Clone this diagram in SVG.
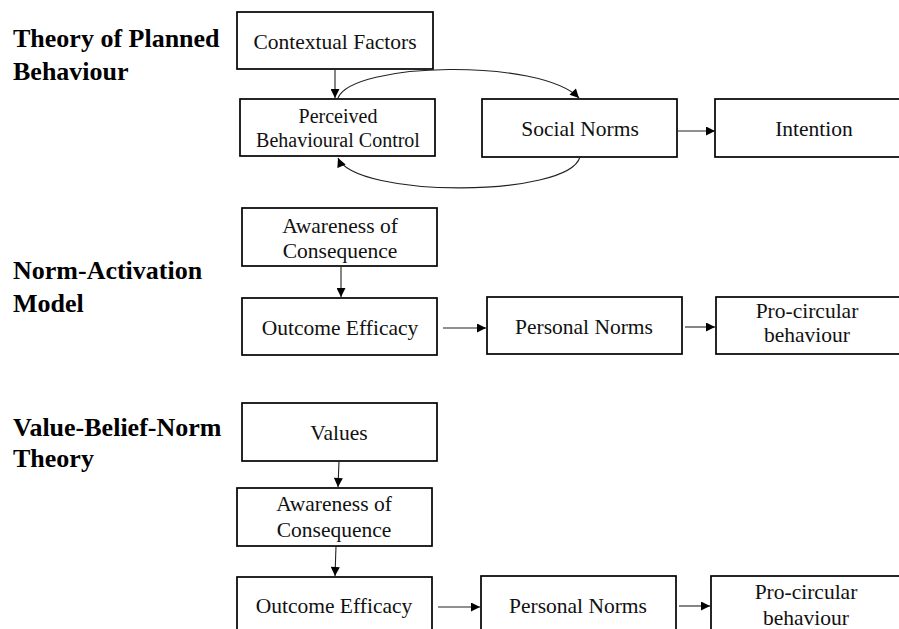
<svg xmlns="http://www.w3.org/2000/svg" width="899" height="629" viewBox="0 0 899 629">
  <style>
    .box { fill: #ffffff; stroke: #000000; stroke-width: 1.7; }
    .lbl { font-family: "Liberation Serif", "Times New Roman", serif; font-size: 21.5px; fill: #111111; text-anchor: middle; }
    .lbl-sm { font-size: 20px; }
    .title { font-family: "Liberation Serif", "Times New Roman", serif; font-size: 26px; font-weight: bold; fill: #000000; }
    .edge { fill: none; stroke: #222222; stroke-width: 1.1; }
  </style>
  <defs>
    <marker id="arrow" viewBox="0 0 10 10" refX="10" refY="5" markerWidth="10" markerHeight="9" markerUnits="userSpaceOnUse" orient="auto">
      <path d="M0,0 L10,5 L0,10 Z" fill="#000000"/>
    </marker>
  </defs>
  <rect width="899" height="629" fill="#ffffff"/>

  <!-- section titles -->
  <g id="title-tpb">
    <text class="title" x="13" y="47">Theory of Planned</text>
    <text class="title" x="13" y="80">Behaviour</text>
  </g>
  <g id="title-nam">
    <text class="title" x="13" y="279">Norm-Activation</text>
    <text class="title" x="13" y="312">Model</text>
  </g>
  <g id="title-vbn">
    <text class="title" x="13" y="436">Value-Belief-Norm</text>
    <text class="title" x="13" y="467">Theory</text>
  </g>

  <!-- Theory of Planned Behaviour -->
  <g id="tpb-contextual">
    <rect class="box" x="237" y="12" width="196" height="57"/>
    <text class="lbl" x="335" y="49">Contextual Factors</text>
  </g>
  <g id="tpb-pbc">
    <rect class="box" x="240" y="99" width="195" height="57"/>
    <text class="lbl lbl-sm" x="338" y="123">Perceived</text>
    <text class="lbl lbl-sm" x="338" y="147">Behavioural Control</text>
  </g>
  <g id="tpb-social">
    <rect class="box" x="482" y="99" width="195" height="58"/>
    <text class="lbl" x="580" y="136">Social Norms</text>
  </g>
  <g id="tpb-intention">
    <rect class="box" x="715" y="99" width="200" height="58"/>
    <text class="lbl" x="814" y="136">Intention</text>
  </g>

  <!-- Norm-Activation Model -->
  <g id="nam-awareness">
    <rect class="box" x="242" y="208" width="195" height="58"/>
    <text class="lbl" x="340" y="233">Awareness of</text>
    <text class="lbl" x="340" y="258">Consequence</text>
  </g>
  <g id="nam-efficacy">
    <rect class="box" x="242" y="298" width="195" height="57"/>
    <text class="lbl" x="340" y="335">Outcome Efficacy</text>
  </g>
  <g id="nam-personal">
    <rect class="box" x="487" y="297" width="195" height="57"/>
    <text class="lbl" x="584" y="334">Personal Norms</text>
  </g>
  <g id="nam-behaviour">
    <rect class="box" x="716" y="297" width="200" height="57"/>
    <text class="lbl" x="807" y="318">Pro-circular</text>
    <text class="lbl" x="807" y="342">behaviour</text>
  </g>

  <!-- Value-Belief-Norm Theory -->
  <g id="vbn-values">
    <rect class="box" x="242" y="403" width="195" height="58"/>
    <text class="lbl" x="339" y="440">Values</text>
  </g>
  <g id="vbn-awareness">
    <rect class="box" x="237" y="488" width="195" height="58"/>
    <text class="lbl" x="334" y="511">Awareness of</text>
    <text class="lbl" x="334" y="537">Consequence</text>
  </g>
  <g id="vbn-efficacy">
    <rect class="box" x="237" y="577" width="195" height="70"/>
    <text class="lbl" x="334" y="613">Outcome Efficacy</text>
  </g>
  <g id="vbn-personal">
    <rect class="box" x="481" y="576" width="195" height="70"/>
    <text class="lbl" x="578" y="613">Personal Norms</text>
  </g>
  <g id="vbn-behaviour">
    <rect class="box" x="711" y="576" width="200" height="70"/>
    <text class="lbl" x="806" y="599">Pro-circular</text>
    <text class="lbl" x="806" y="625">behaviour</text>
  </g>

  <!-- connectors -->
  <g id="connectors">
    <line class="edge" x1="335" y1="69" x2="335" y2="98" marker-end="url(#arrow)"/>
    <path class="edge" d="M338,98 C352,62 540,58 579,98" marker-end="url(#arrow)"/>
    <path class="edge" d="M580,157 C568,198 355,198 338,158" marker-end="url(#arrow)"/>
    <line class="edge" x1="677" y1="131" x2="715" y2="131" marker-end="url(#arrow)"/>

    <line class="edge" x1="341" y1="266" x2="341" y2="297" marker-end="url(#arrow)"/>
    <line class="edge" x1="443" y1="328" x2="486" y2="328" marker-end="url(#arrow)"/>
    <line class="edge" x1="685" y1="327" x2="715" y2="327" marker-end="url(#arrow)"/>

    <line class="edge" x1="339" y1="461" x2="338" y2="487" marker-end="url(#arrow)"/>
    <line class="edge" x1="336" y1="546" x2="335" y2="576" marker-end="url(#arrow)"/>
    <line class="edge" x1="438" y1="607" x2="480" y2="607" marker-end="url(#arrow)"/>
    <line class="edge" x1="679" y1="606" x2="710" y2="606" marker-end="url(#arrow)"/>
  </g>
</svg>
